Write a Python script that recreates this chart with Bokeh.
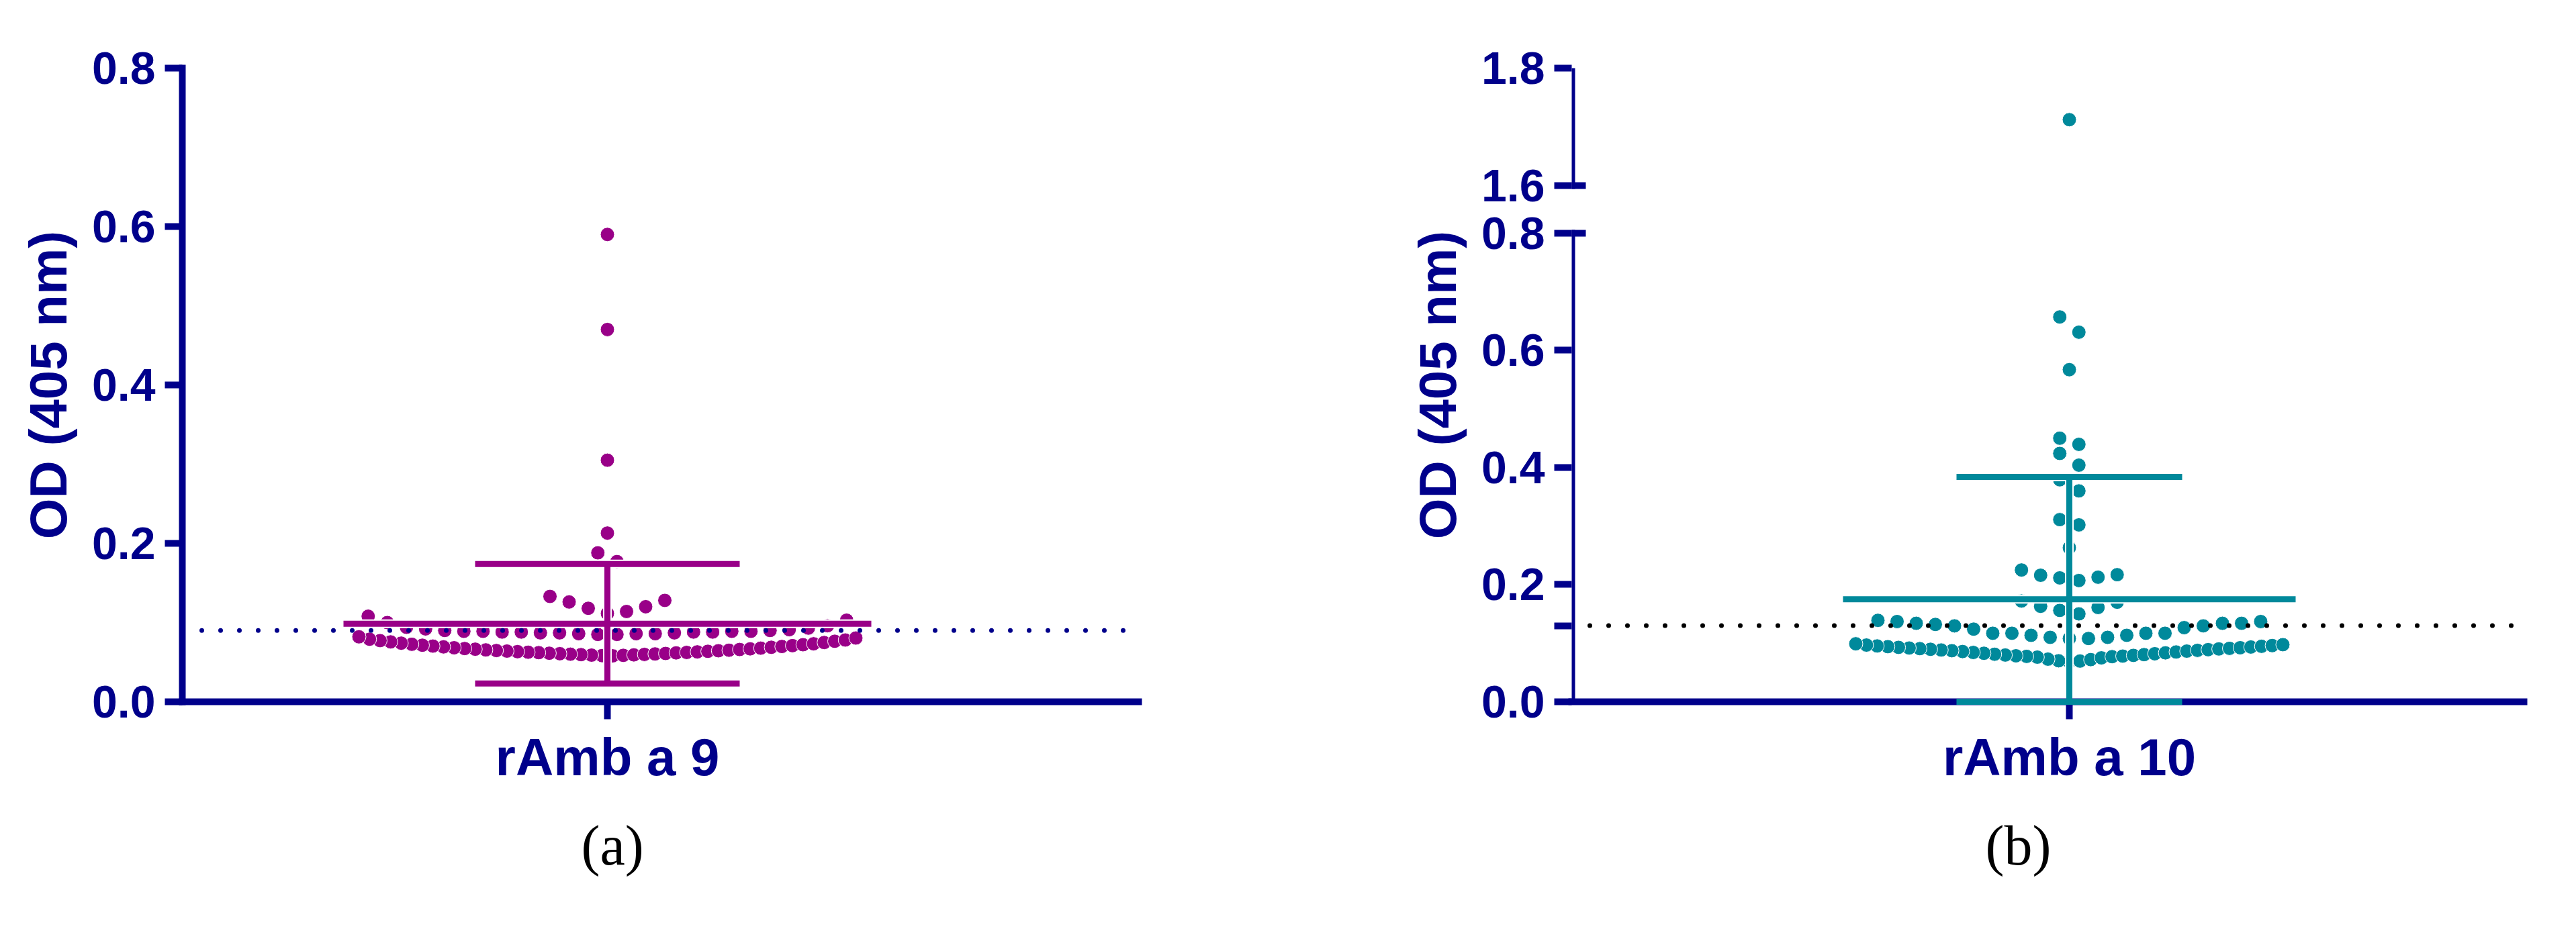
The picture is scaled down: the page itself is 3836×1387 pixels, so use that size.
from bokeh.plotting import figure
from bokeh.layouts import row
from bokeh.models import (Range1d, FixedTicker, PrintfTickFormatter, Span, Title,
                          LinearAxis)
from bokeh.embed import file_html
from bokeh.resources import INLINE

# ---------------- data ----------------
categories = ["rAmb a 9", "rAmb a 10"]
panel_tags = ["(a)", "(b)"]
y_title = "OD (405 nm)"

ramb9_od = [
    0.0580, 0.0583, 0.0586, 0.0589, 0.0592, 0.0595, 0.0598, 0.0601, 0.0604, 0.0607,
    0.0610, 0.0613, 0.0617, 0.0620, 0.0623, 0.0626, 0.0630, 0.0633, 0.0637, 0.0640,
    0.0644, 0.0647, 0.0651, 0.0655, 0.0660, 0.0664, 0.0668, 0.0672, 0.0677, 0.0682,
    0.0688, 0.0693, 0.0698, 0.0703, 0.0709, 0.0714, 0.0720, 0.0726, 0.0732, 0.0740,
    0.0748, 0.0756, 0.0764, 0.0772, 0.0780, 0.0790, 0.0805, 0.0820,
    0.085, 0.085, 0.086, 0.086, 0.086, 0.087, 0.087, 0.087, 0.088, 0.088,
    0.088, 0.088, 0.089, 0.089, 0.089, 0.089, 0.090, 0.090, 0.091, 0.092,
    0.093, 0.094, 0.096, 0.100, 0.103, 0.108,
    0.1115, 0.114, 0.118, 0.120, 0.126, 0.128, 0.133,
    0.177, 0.188, 0.213, 0.305, 0.470, 0.590,
]
ramb10_od = [
    0.0685, 0.0695, 0.0700, 0.0720, 0.0728, 0.0750, 0.0762, 0.0770, 0.0775, 0.0780,
    0.0785, 0.0792, 0.0798, 0.0805, 0.0812, 0.0820, 0.0828, 0.0835, 0.0842, 0.0850,
    0.0858, 0.0865, 0.0872, 0.0878, 0.0884, 0.0890, 0.0896, 0.0902, 0.0907, 0.0912,
    0.0918, 0.0923, 0.0929, 0.0935, 0.0941, 0.0947, 0.0953, 0.0960, 0.0968, 0.0975,
    0.0990,
    0.108, 0.108, 0.110, 0.110, 0.1135, 0.1135, 0.117, 0.117, 0.117, 0.117,
    0.124, 0.1266, 0.1296, 0.1296, 0.132, 0.134, 0.134, 0.134, 0.137, 0.137, 0.139,
    0.150, 0.156, 0.161, 0.163, 0.170, 0.172,
    0.207, 0.2115, 0.2127, 0.216, 0.217, 0.225,
    0.263, 0.302, 0.311, 0.360, 0.379, 0.404, 0.424, 0.4395, 0.450,
    0.567, 0.631, 0.657, 1.712,
]
ramb9_mean, ramb9_sd = 0.0985, 0.0755
ramb10_mean, ramb10_sd = 0.175, 0.209
ramb9_cutoff = 0.09
ramb10_cutoff = 0.13
y_ticks_a = [0.0, 0.2, 0.4, 0.6, 0.8]
y_ticks_b_low = [0.0, 0.13, 0.2, 0.4, 0.6, 0.8]
y_ticks_b_high = [1.6, 1.8]

# ---------------- style ----------------
NAVY = "#00008B"
PURPLE = "#990088"
TEAL = "#00899B"
FONT = "Liberation Sans"
SERIF = "Liberation Serif"
DOT = 21
ROW_GAP = 28.5          # px between neighbouring dots in a row
BREAK_GAP = 0.0818      # height of the axis break (in lower-segment data units)


def swarm(values, bin_h, max_half, gap=ROW_GAP):
    """Prism-like column scatter: group close values into rows, spread each row
    horizontally (lowest value in the centre, then right / left alternately)."""
    vals = sorted(values)
    rows, cur, start = [], [vals[0]], vals[0]
    for v in vals[1:]:
        if v - start < bin_h:
            cur.append(v)
        else:
            rows.append(cur)
            cur, start = [v], v
    rows.append(cur)
    xs, ys = [], []
    for r in rows:
        n = len(r)
        s = gap if n == 1 else min(gap, 2 * max_half / (n - 1))
        for i, v in enumerate(r):
            if n % 2:
                k = (i + 1) // 2
                off = 0 if i == 0 else (k * s if i % 2 else -k * s)
            else:
                k = i // 2
                off = (k + 0.5) * s if i % 2 == 0 else -(k + 0.5) * s
            xs.append(off)
            ys.append(v)
    return xs, ys


def style_axis(ax, label_size="68px"):
    ax.axis_line_color = NAVY
    ax.axis_line_width = 10
    ax.axis_line_cap = "square"
    ax.major_tick_line_color = NAVY
    ax.major_tick_line_width = 10
    ax.major_tick_out = 26
    ax.major_tick_in = 0
    ax.minor_tick_line_color = None
    ax.major_label_text_color = NAVY
    ax.major_label_text_font = FONT
    ax.major_label_text_font_style = "bold"
    ax.major_label_text_font_size = label_size


def style_title(ax):
    ax.axis_label = y_title
    ax.axis_label_text_font = FONT
    ax.axis_label_text_font_style = "bold"
    ax.axis_label_text_font_size = "78px"
    ax.axis_label_text_color = NAVY
    ax.axis_label_standoff = 18


def base_fig(w, h, xr, yr, **kw):
    p = figure(width=w, height=h, x_range=xr, y_range=yr, output_backend="svg",
               toolbar_location=None, **kw)
    p.outline_line_color = None
    p.xgrid.visible = False
    p.ygrid.visible = False
    p.background_fill_color = "white"
    p.border_fill_color = "white"
    return p


def error_bars(p, mean, sd, color, mean_half, cap_half, level="glyph"):
    lo = max(mean - sd, 0.0)
    hi = mean + sd
    x0 = [-mean_half, -cap_half, -cap_half, 0]
    x1 = [mean_half, cap_half, cap_half, 0]
    y0 = [mean, hi, lo, lo]
    y1 = [mean, hi, lo, hi]
    p.segment(x0, y0, x1, y1, line_color="white", line_width=13)
    p.segment(x0, y0, x1, y1, line_color=color, line_width=9, level=level)


def caption(text, offset):
    return Title(text=text, align="left", offset=offset, standoff=73,
                 text_font=SERIF, text_font_size="84px", text_font_style="normal",
                 text_color="black")


# ---------------- panel (a) ----------------
pa = base_fig(1912, 1371, Range1d(-633, 791), Range1d(0, 0.8),
              min_border_left=271, min_border_right=217,
              min_border_top=99, min_border_bottom=326)
xa, ya = swarm(ramb9_od, 0.025, 370)
pa.scatter(xa, ya, size=DOT, fill_color=PURPLE, line_color="white", line_width=1)
error_bars(pa, ramb9_mean, ramb9_sd, PURPLE, 393, 197)
pa.add_layout(Span(location=ramb9_cutoff, dimension="width", line_color=NAVY,
                   line_width=7, line_dash="0 28", line_dash_offset=27, line_cap="round"))
style_axis(pa.yaxis[0])
pa.yaxis.ticker = FixedTicker(ticks=y_ticks_a)
pa.yaxis.formatter = PrintfTickFormatter(format="%.1f")
pa.yaxis.major_label_standoff = 14
style_title(pa.yaxis[0])
style_axis(pa.xaxis[0], "78px")
pa.xaxis.ticker = FixedTicker(ticks=[0])
pa.xaxis.major_label_overrides = {0: categories[0]}
pa.xaxis.major_label_standoff = 12
pa.add_layout(caption(panel_tags[0], 594), "below")

# ---------------- panel (b): broken y axis ----------------
def broken(v):
    return v if v <= 0.8 else v - y_ticks_b_high[0] + 0.8 + BREAK_GAP


t_lo_top = y_ticks_b_low[-1]
t16, t18 = broken(y_ticks_b_high[0]), broken(y_ticks_b_high[1])
xr_b = Range1d(-741, 677)
pb = base_fig(1908, 1371, xr_b, Range1d(0, t18), y_axis_location=None,
              min_border_left=428, min_border_right=62,
              min_border_top=101, min_border_bottom=325)
xb, yb = swarm(ramb10_od, 0.034, 318)
pb.scatter(xb, [broken(v) for v in yb], size=DOT, fill_color=TEAL,
           line_color="white", line_width=1)
error_bars(pb, ramb10_mean, ramb10_sd, TEAL, 337, 168, level="overlay")
pb.add_layout(Span(location=ramb10_cutoff, dimension="width", line_color="black",
                   line_width=7, line_dash="0 28", line_dash_offset=1, line_cap="round"))

# ticks, labels and title of the whole axis (no line of its own)
ax_main = LinearAxis(ticker=FixedTicker(ticks=y_ticks_b_low + [t16, t18],
                                        minor_ticks=[t_lo_top, t16]),
                     formatter=PrintfTickFormatter(format="%.1f"))
style_axis(ax_main)
ax_main.axis_line_color = None
ax_main.major_label_overrides = {ramb10_cutoff: "", t16: "1.6", t18: "1.8"}
ax_main.major_label_standoff = 14
ax_main.minor_tick_line_color = NAVY
ax_main.minor_tick_line_width = 10
ax_main.minor_tick_in = 21
ax_main.minor_tick_out = 0
style_title(ax_main)
pb.add_layout(ax_main, "left")
# the two pieces of the broken axis line
for lo, hi in [(0.0, t_lo_top), (t16, t18)]:
    seg = LinearAxis(ticker=FixedTicker(ticks=[]), bounds=(lo, hi),
                     fixed_location=xr_b.start)
    style_axis(seg)
    seg.major_tick_out = 0
    pb.add_layout(seg, "left")

style_axis(pb.xaxis[0], "78px")
pb.xaxis.ticker = FixedTicker(ticks=[0])
pb.xaxis.major_label_overrides = {0: categories[1]}
pb.xaxis.major_label_standoff = 12
pb.add_layout(caption(panel_tags[1], 616), "below")

layout = row(pa, pb)
open("out.html", "w").write(file_html(layout, INLINE))
